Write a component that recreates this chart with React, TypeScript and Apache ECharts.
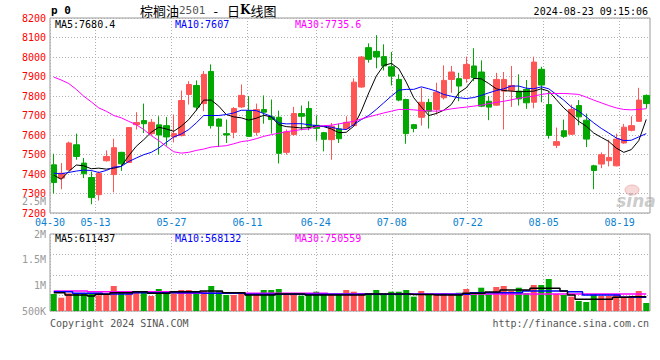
import React, { useEffect, useRef } from 'react';
import * as echarts from 'echarts';

const dates = [
  '04-30',
  '05-06', '05-07', '05-08', '05-09', '05-10',
  '05-13', '05-14', '05-15', '05-16', '05-17',
  '05-20', '05-21', '05-22', '05-23', '05-24',
  '05-27', '05-28', '05-29', '05-30', '05-31',
  '06-03', '06-04', '06-05', '06-06', '06-07',
  '06-11', '06-12', '06-13', '06-14',
  '06-17', '06-18', '06-19', '06-20', '06-21',
  '06-24', '06-25', '06-26', '06-27', '06-28',
  '07-01', '07-02', '07-03', '07-04', '07-05',
  '07-08', '07-09', '07-10', '07-11', '07-12',
  '07-15', '07-16', '07-17', '07-18', '07-19',
  '07-22', '07-23', '07-24', '07-25', '07-26',
  '07-29', '07-30', '07-31', '08-01', '08-02',
  '08-05', '08-06', '08-07', '08-08', '08-09',
  '08-12', '08-13', '08-14', '08-15', '08-16',
  '08-19', '08-20', '08-21', '08-22', '08-23',
];

const tickLabels = ['04-30', '05-13', '05-27', '06-11', '06-24', '07-08', '07-22', '08-05', '08-19'];

const opens = [
  7447, 7379, 7421, 7550, 7456, 7382, 7294, 7468, 7397, 7511,
  7459, 7653, 7674, 7607, 7652, 7648, 7590, 7597, 7808, 7854,
  7761, 7926, 7682, 7607, 7614, 7744, 7725, 7614, 7731, 7693,
  7691, 7511, 7602, 7710, 7736, 7650, 7612, 7576, 7631, 7633,
  7648, 7846, 8048, 8029, 8002, 7950, 7885, 7782, 7653, 7691,
  7767, 7731, 7791, 7885, 7889, 7889, 7954, 7923, 7773, 7753,
  7825, 7828, 7825, 7834, 7768, 7937, 7756, 7547, 7622, 7604,
  7751, 7676, 7442, 7451, 7468, 7442, 7559, 7624, 7670, 7803,
];
const closes = [
  7356, 7404, 7559, 7490, 7401, 7279, 7404, 7490, 7535, 7452,
  7638, 7664, 7658, 7665, 7600, 7590, 7607, 7777, 7859, 7743,
  7911, 7648, 7645, 7600, 7736, 7803, 7593, 7731, 7717, 7679,
  7506, 7616, 7710, 7696, 7645, 7634, 7578, 7645, 7581, 7665,
  7871, 8000, 7988, 8000, 7954, 7902, 7779, 7607, 7633, 7768,
  7722, 7820, 7880, 7923, 7851, 7962, 7894, 7748, 7743, 7885,
  7885, 7854, 7785, 7765, 7974, 7856, 7598, 7566, 7593, 7731,
  7693, 7579, 7418, 7499, 7485, 7579, 7640, 7648, 7779, 7761,
];
const lows = [
  7301, 7322, 7418, 7473, 7379, 7245, 7264, 7464, 7306, 7416,
  7456, 7628, 7610, 7597, 7499, 7545, 7562, 7593, 7756, 7725,
  7722, 7633, 7538, 7559, 7583, 7739, 7590, 7597, 7658, 7607,
  7454, 7499, 7597, 7624, 7624, 7571, 7516, 7473, 7559, 7628,
  7645, 7842, 7971, 7942, 7931, 7854, 7773, 7555, 7614, 7648,
  7633, 7705, 7782, 7816, 7773, 7868, 7876, 7743, 7676, 7751,
  7628, 7744, 7751, 7734, 7737, 7768, 7581, 7533, 7585, 7600,
  7650, 7538, 7322, 7430, 7439, 7439, 7555, 7619, 7667, 7736,
];
const highs = [
  7504, 7456, 7566, 7607, 7482, 7413, 7413, 7521, 7581, 7514,
  7641, 7717, 7761, 7682, 7696, 7693, 7705, 7828, 7876, 7880,
  7928, 7962, 7686, 7679, 7743, 7859, 7799, 7761, 7803, 7782,
  7725, 7628, 7744, 7751, 7773, 7700, 7616, 7662, 7658, 7696,
  7890, 8005, 8070, 8112, 8065, 8026, 7911, 7786, 7657, 7842,
  7786, 7868, 7957, 7954, 7919, 8002, 8045, 7983, 7799, 7919,
  7923, 7954, 7911, 7882, 8002, 7950, 7825, 7638, 7679, 7756,
  7779, 7710, 7447, 7511, 7576, 7607, 7657, 7696, 7842, 7808,
];

const ma5 = [
  7394, 7373, 7413, 7446, 7442, 7427, 7430, 7425, 7430, 7439,
  7494, 7542, 7576, 7614, 7640, 7631, 7619, 7645, 7679, 7727,
  7779, 7779, 7748, 7705, 7693, 7688, 7676, 7686, 7701, 7693,
  7653, 7643, 7640, 7636, 7638, 7645, 7643, 7631, 7612, 7614,
  7645, 7722, 7816, 7902, 7957, 7967, 7940, 7871, 7791, 7744,
  7700, 7710, 7727, 7756, 7816, 7842, 7890, 7888, 7864, 7837,
  7828, 7825, 7822, 7823, 7825, 7837, 7825, 7782, 7739, 7705,
  7670, 7645, 7610, 7588, 7567, 7533, 7511, 7525, 7571, 7680,
];
const ma10 = [
  7404, 7401, 7408, 7415, 7420, 7418, 7408, 7418, 7435, 7439,
  7464, 7482, 7499, 7511, 7533, 7562, 7590, 7605, 7628, 7662,
  7700, 7700, 7700, 7705, 7713, 7727, 7727, 7725, 7710, 7696,
  7662, 7657, 7658, 7658, 7653, 7648, 7645, 7640, 7631, 7628,
  7653, 7679, 7700, 7731, 7765, 7799, 7830, 7834, 7834, 7847,
  7837, 7825, 7808, 7799, 7791, 7787, 7792, 7803, 7816, 7828,
  7837, 7851, 7851, 7840, 7837, 7847, 7837, 7808, 7779, 7744,
  7722, 7693, 7662, 7634, 7610, 7585, 7571, 7573, 7590, 7607,
];
const ma30 = [
  7897, 7882, 7864, 7834, 7799, 7770, 7739, 7722, 7700, 7688,
  7670, 7653, 7628, 7597, 7571, 7542, 7514, 7507, 7511, 7521,
  7528, 7538, 7542, 7545, 7555, 7566, 7571, 7581, 7593, 7602,
  7609, 7617, 7622, 7628, 7631, 7643, 7648, 7650, 7657, 7664,
  7670, 7682, 7693, 7703, 7713, 7722, 7731, 7731, 7729, 7725,
  7724, 7722, 7727, 7734, 7739, 7743, 7748, 7753, 7761, 7767,
  7773, 7780, 7789, 7794, 7799, 7808, 7813, 7813, 7813, 7811,
  7808, 7794, 7779, 7765, 7751, 7739, 7731, 7729, 7731, 7735,
];

const volumes = [
  831000, 759000, 845000, 845000, 831000, 845000, 806000, 831000, 987000, 890000,
  856000, 864000, 876000, 792000, 929000, 890000, 845000, 909000, 909000, 845000,
  890000, 987000, 890000, 812000, 812000, 845000, 825000, 812000, 909000, 909000,
  929000, 825000, 825000, 798000, 825000, 876000, 845000, 831000, 812000, 909000,
  876000, 845000, 845000, 909000, 831000, 876000, 876000, 909000, 779000, 890000,
  812000, 812000, 845000, 812000, 856000, 929000, 825000, 954000, 825000, 968000,
  987000, 890000, 954000, 845000, 1006000, 1006000, 1123000, 831000, 812000, 779000,
  695000, 675000, 831000, 792000, 792000, 812000, 779000, 779000, 890000, 656000,
];
const volMa5 = [
  856000, 856000, 812000, 812000, 812000, 792000, 825000, 825000, 856000, 856000,
  856000, 876000, 876000, 845000, 845000, 845000, 876000, 876000, 876000, 876000,
  890000, 890000, 890000, 856000, 856000, 856000, 812000, 812000, 812000, 812000,
  831000, 831000, 831000, 831000, 812000, 812000, 812000, 812000, 812000, 812000,
  812000, 812000, 831000, 831000, 831000, 831000, 831000, 831000, 821000, 821000,
  821000, 812000, 812000, 812000, 812000, 845000, 845000, 845000, 870000, 870000,
  909000, 909000, 909000, 909000, 942000, 942000, 942000, 942000, 890000, 812000,
  728000, 728000, 728000, 728000, 728000, 767000, 767000, 779000, 779000, 779000,
];
const volMa10 = [
  876000, 876000, 876000, 845000, 845000, 845000, 845000, 831000, 831000, 831000,
  831000, 856000, 856000, 856000, 856000, 856000, 856000, 856000, 856000, 856000,
  845000, 845000, 845000, 845000, 845000, 845000, 825000, 825000, 825000, 825000,
  825000, 825000, 825000, 825000, 825000, 825000, 825000, 825000, 825000, 825000,
  825000, 825000, 825000, 825000, 825000, 825000, 825000, 825000, 825000, 825000,
  825000, 825000, 825000, 825000, 825000, 825000, 856000, 856000, 856000, 856000,
  856000, 856000, 856000, 890000, 890000, 890000, 890000, 890000, 890000, 876000,
  876000, 812000, 812000, 812000, 812000, 812000, 767000, 767000, 767000, 767000,
];
const volMa30 = [
  890000, 890000, 890000, 890000, 890000, 876000, 876000, 876000, 876000, 876000,
  876000, 876000, 876000, 876000, 876000, 876000, 876000, 845000, 845000, 845000,
  845000, 845000, 845000, 845000, 845000, 845000, 845000, 845000, 845000, 845000,
  845000, 845000, 845000, 845000, 845000, 845000, 845000, 831000, 831000, 831000,
  831000, 831000, 831000, 831000, 831000, 831000, 831000, 831000, 831000, 831000,
  831000, 831000, 831000, 831000, 831000, 831000, 831000, 831000, 831000, 831000,
  831000, 831000, 831000, 831000, 831000, 831000, 831000, 831000, 831000, 831000,
  831000, 831000, 831000, 831000, 831000, 831000, 831000, 831000, 831000, 831000,
];

const volTickLabels: Record<number, string> = { 500000: '500K', 1000000: '1M', 1500000: '1.5M', 2000000: '2M' };

const RED = '#ff5555';
const GREEN = '#00a800';
const MONO = '"DejaVu Sans Mono", "Liberation Mono", monospace';
const GRID_LINE = { color: '#b0b0b0', width: 1, type: [1, 2] as any };

export default function App() {
  const ref = useRef<HTMLDivElement>(null);
  useEffect(() => {
    document.body.style.margin = '0';
    const chart = echarts.init(ref.current!, null, { renderer: 'svg' });
    const labelSet = new Set(tickLabels);
    const candleData = opens.map((o, i) => [o, closes[i], lows[i], highs[i]]);
    const volData = volumes.map((v, i) => ({
      value: v,
      itemStyle: { color: closes[i] >= opens[i] ? RED : GREEN },
    }));
    const txt = (text: string, x: number, y: number, fill: string, extra: any = {}) => ({
      type: 'text',
      x,
      y,
      silent: true,
      z: 10,
      style: { text, fill, font: `10px ${MONO}`, verticalAlign: 'middle', ...extra },
    });

    chart.setOption({
      animation: false,
      backgroundColor: '#ffffff',
      grid: [
        { left: 50, right: 10, top: 18, height: 195, show: true, borderColor: '#999', borderWidth: 1 },
        { left: 50, right: 10, top: 234, height: 77, show: true, borderColor: '#999', borderWidth: 1 },
      ],
      xAxis: [
        { type: 'category', gridIndex: 0, data: dates, boundaryGap: true, show: false, position: 'bottom' },
        {
          type: 'category', gridIndex: 0, data: dates, boundaryGap: false, position: 'bottom',
          axisLine: { show: false, onZero: false }, axisTick: { show: false },
          axisLabel: {
            interval: (_i: number, v: string) => labelSet.has(v),
            color: '#0b80d0', fontFamily: MONO, fontSize: 10, margin: 4,
          },
          splitLine: { show: true, interval: (_i: number, v: string) => labelSet.has(v), lineStyle: GRID_LINE },
        },
        { type: 'category', gridIndex: 1, data: dates, boundaryGap: true, show: false, position: 'bottom' },
        {
          type: 'category', gridIndex: 1, data: dates, boundaryGap: false, position: 'bottom',
          axisLine: { show: false, onZero: false }, axisTick: { show: false }, axisLabel: { show: false },
          splitLine: { show: true, interval: (_i: number, v: string) => labelSet.has(v), lineStyle: GRID_LINE },
        },
      ],
      yAxis: [
        {
          type: 'value', gridIndex: 0, min: 7200, max: 8200, interval: 100,
          axisLine: { show: false }, axisTick: { show: false },
          axisLabel: {
            color: '#ff0000', fontFamily: MONO, fontSize: 10, margin: 4, padding: [0, 0, 4, 0],
            formatter: (v: number) => String(v),
          },
          splitLine: { show: true, lineStyle: GRID_LINE },
        },
        {
          type: 'value', gridIndex: 1, min: 500000, max: 2000000, interval: 500000,
          axisLine: { show: false }, axisTick: { show: false },
          axisLabel: {
            color: '#999999', fontFamily: MONO, fontSize: 10, margin: 4,
            formatter: (v: number) => volTickLabels[v] ?? '',
          },
          splitLine: { show: false },
        },
        {
          type: 'value', gridIndex: 1, min: 0, max: 77, interval: 20.5, inverse: true, position: 'right',
          axisLine: { show: false }, axisTick: { show: false }, axisLabel: { show: false },
          splitLine: { show: true, lineStyle: GRID_LINE },
        },
      ],
      series: [
        {
          type: 'candlestick', xAxisIndex: 0, yAxisIndex: 0, data: candleData, barWidth: 6,
          itemStyle: { color: RED, color0: GREEN, borderColor: RED, borderColor0: GREEN, borderWidth: 1 },
        },
        { type: 'line', xAxisIndex: 0, yAxisIndex: 0, data: ma5, symbol: 'none', lineStyle: { color: '#000000', width: 1 } },
        { type: 'line', xAxisIndex: 0, yAxisIndex: 0, data: ma10, symbol: 'none', lineStyle: { color: '#0000ff', width: 1 } },
        { type: 'line', xAxisIndex: 0, yAxisIndex: 0, data: ma30, symbol: 'none', lineStyle: { color: '#ff00ff', width: 1 } },
        { type: 'bar', xAxisIndex: 2, yAxisIndex: 1, data: volData, barWidth: 6 },
        { type: 'line', xAxisIndex: 2, yAxisIndex: 1, data: volMa30, step: 'middle', symbol: 'none', lineStyle: { color: '#ff00ff', width: 1.5 } },
        { type: 'line', xAxisIndex: 2, yAxisIndex: 1, data: volMa10, step: 'middle', symbol: 'none', lineStyle: { color: '#0000ff', width: 1.5 } },
        { type: 'line', xAxisIndex: 2, yAxisIndex: 1, data: volMa5, step: 'middle', symbol: 'none', lineStyle: { color: '#000000', width: 1.5 } },
      ],
      graphic: [
        txt('p 0', 51, 10, '#000', { font: `bold 11px ${MONO}` }),
        {
          type: 'text', x: 140, y: 10, silent: true, z: 10,
          style: {
            text: '{a|棕榈油}{b|2501}{s|-}{a|日}{k|K}{a|线图}',
            verticalAlign: 'middle',
            rich: {
              a: { font: '13px "Noto Sans CJK SC"', fill: '#000', lineHeight: 14 },
              b: { font: `11px ${MONO}`, fill: '#555', lineHeight: 14 },
              s: { font: '13px "Noto Sans CJK SC"', fill: '#000', padding: [0, 9, 0, 8], lineHeight: 14 },
              k: { font: 'bold 12px "DejaVu Serif"', fill: '#000', lineHeight: 14 },
            },
          },
        },
        txt('2024-08-23 09:15:06', 648, 11, '#000', { align: 'right' }),
        txt('MA5:7680.4', 55, 24.5, '#000'),
        txt('MA10:7607', 175, 24.5, '#0000ff'),
        txt('MA30:7735.6', 295, 24.5, '#ff00ff'),
        txt('2.5M', 46, 201, '#999', { align: 'right' }),
        txt('MA5:611437', 55, 238, '#000'),
        txt('MA10:568132', 175, 238, '#0000ff'),
        txt('MA30:750559', 295, 238, '#ff00ff'),
        txt('Copyright 2024 SINA.COM', 50, 323, '#555'),
        txt('http://finance.sina.com.cn', 649, 323, '#555', { align: 'right' }),
        {
          type: 'ellipse', silent: true, z: 9,
          shape: { cx: 632, cy: 190, rx: 7, ry: 5 },
          style: { fill: 'rgba(240,170,170,0.45)', stroke: 'rgba(230,140,140,0.5)', lineWidth: 1 },
        },
        {
          type: 'text', x: 636, y: 201, silent: true, z: 9,
          style: { text: 'sina', fill: 'rgba(170,170,170,0.6)', font: 'italic bold 17px "DejaVu Sans"', align: 'center', verticalAlign: 'middle' },
        },
      ],
    });
    return () => chart.dispose();
  }, []);
  return <div ref={ref} style={{ width: 660, height: 360 }} />;
}
